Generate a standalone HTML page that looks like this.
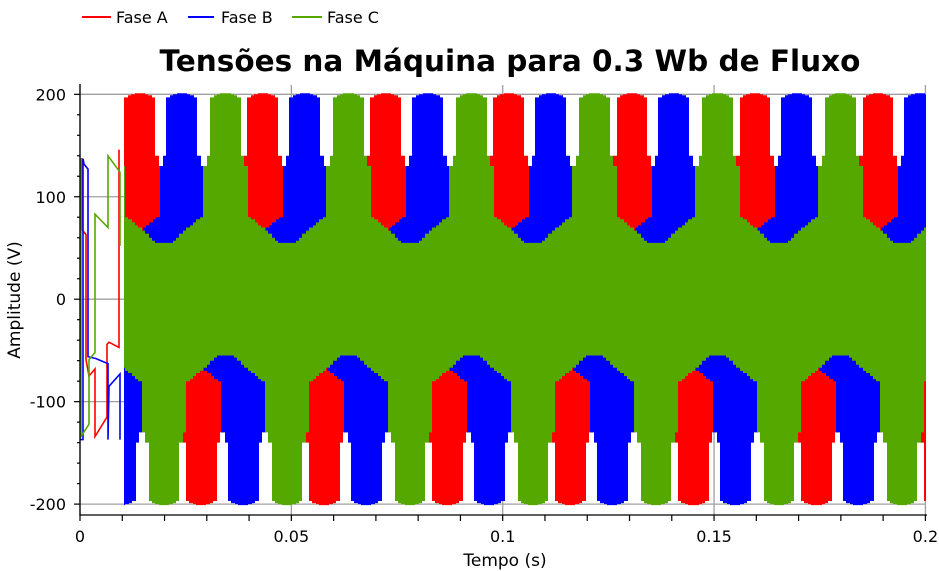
<!DOCTYPE html>
<html><head><meta charset="utf-8"><style>
html,body{margin:0;padding:0;background:#fff;}
svg{display:block;font-family:"DejaVu Sans","Liberation Sans",sans-serif;}
</style></head><body>
<svg id="chart" width="939" height="571" viewBox="0 0 939 571">
  <g>
    <g><line x1="82" y1="17" x2="111" y2="17" stroke="#ff0000" stroke-width="2"/><text x="116" y="23" font-size="16">Fase A</text></g>
    <g><line x1="188" y1="17" x2="214" y2="17" stroke="#0000ff" stroke-width="2"/><text x="221" y="23" font-size="16">Fase B</text></g>
    <g><line x1="292" y1="17" x2="322" y2="17" stroke="#55a800" stroke-width="2"/><text x="327" y="23" font-size="16">Fase C</text></g>
  </g>
  <text x="510" y="71" text-anchor="middle" font-size="29.5" font-weight="bold">Tensões na Máquina para 0.3 Wb de Fluxo</text>
  <g id="grid"></g>
  <g id="series"></g>
  <g id="axes"></g>
  <text x="505" y="566" text-anchor="middle" font-size="17">Tempo (s)</text>
  <text transform="translate(20,300) rotate(-90)" text-anchor="middle" font-size="17">Amplitude (V)</text>
</svg>
<script>
const xTicks = [0, 0.05, 0.1, 0.15, 0.2];
const xTickLabels = ["0", "0.05", "0.1", "0.15", "0.2"];
const yTicks = [-200, -100, 0, 100, 200];
const yTickLabels = ["-200", "-100", "0", "100", "200"];
const seriesNames = ["Fase A", "Fase B", "Fase C"];
const seriesColors = ["#ff0000", "#0000ff", "#55a800"];
// PWM envelope: period (s), positive peak time of each phase (s), start of switching (s)
const period = 0.0291;
const peakTimes = [0.04326, 0.05319, 0.06352];
const switchStart = 0.0105;
// envelope upper bound (V) vs electrical angle from phase peak (deg)
const envAngles = [0, 10, 20, 30, 40, 50, 60, 70, 80, 90, 100, 110, 120, 130, 140, 150, 160, 170, 180];
const envHigh = [201, 201, 200, 199, 197, 140, 130, 80, 78, 75, 72, 70, 67, 64, 60, 57, 55, 55, 55];
// start-up transient (before switching)
const transA_t = [0, 0.00047, 0.00047, 0.00142, 0.00142, 0.00213, 0.00355, 0.00355, 0.00638, 0.00638, 0.00686, 0.00922, 0.00922];
const transA_v = [137, 137, 68, 63, -59, -75, -68, -134, -115, -44, -42, -47, 146];
const transB_t = [0, 0.00071, 0.00071, 0.00095, 0.00189, 0.00189, 0.00378, 0.00662, 0.00662, 0.00686, 0.00946, 0.00946];
const transB_v = [-137, -137, 137, 132, 127, -56, -58, -63, -137, -85, -73, -137];
const transC_t = [0, 0.00024, 0.00024, 0.00213, 0.00213, 0.00355, 0.00355, 0.00662, 0.00662, 0.00946, 0.00946];
const transC_v = [137, 137, -134, -122, -59, -52, 83, 70, 140, 124, 52];

const NS = "http://www.w3.org/2000/svg";
const X0 = 80, X1 = 925.4, Y200 = 94.3, Y0 = 299.2;
const xS = t => X0 + t / 0.2 * (X1 - X0);
const yS = v => Y0 - v * (Y0 - Y200) / 200;
function mk(tag, attrs, parent) { const e = document.createElementNS(NS, tag); for (const k in attrs) e.setAttribute(k, attrs[k]); parent.appendChild(e); return e; }

const grid = document.getElementById('grid');
xTicks.forEach(t => {
  const l = mk('line', {x1: xS(t), x2: xS(t), y1: 85, y2: 515, stroke: '#a0a0a0', 'stroke-width': 1.3}, grid);
  
  
});
yTicks.forEach(v => {
  const l = mk('line', {x1: 80, x2: 926, y1: yS(v), y2: yS(v), stroke: '#a0a0a0', 'stroke-width': 1.3}, grid);
  
  
});

function envH(phiAbs) {
  const i = Math.min(envAngles.length - 1, Math.round(phiAbs / 10));
  return envHigh[i];
}
const series = document.getElementById('series');
const trans = [[transA_t, transA_v], [transB_t, transB_v], [transC_t, transC_v]];
for (let k = 0; k < 3; k++) {
  const g = mk('g', {}, series);
  
  
  const pts = trans[k][0].map((t, i) => xS(t).toFixed(1) + ',' + yS(trans[k][1][i]).toFixed(1)).join(' ');
  const pl = mk('polyline', {points: pts, fill: 'none', stroke: seriesColors[k], 'stroke-width': 1.6}, g);
  
  
  let d = '';
  const xs = Math.floor(xS(switchStart));
  for (let px = xs; px < 926; px++) {
    const t = (px + 0.5 - X0) / (X1 - X0) * 0.2;
    let phi = ((t - peakTimes[k]) / period) * 360;
    phi = ((phi % 360) + 540) % 360 - 180;
    const a = Math.abs(phi);
    const hi = envH(a), lo = -envH(180 - a);
    d += 'M' + px + ' ' + yS(hi).toFixed(1) + 'H' + (px + 1) + 'V' + yS(lo).toFixed(1) + 'H' + px + 'Z';
  }
  const band = mk('path', {d: d, fill: seriesColors[k]}, g);
  
  
}

const axes = document.getElementById('axes');
mk('line', {x1: 80, x2: 80, y1: 84, y2: 516, stroke: '#000', 'stroke-width': 1.3}, axes);
mk('line', {x1: 80, x2: 927, y1: 515, y2: 515, stroke: '#000', 'stroke-width': 1.3}, axes);
for (let i = 0; i <= 20; i++) {
  const t = i * 0.01;
  mk('line', {x1: xS(t), x2: xS(t), y1: 515, y2: 521, stroke: '#000', 'stroke-width': 1.2}, axes);
}
for (let v = -200; v <= 200; v += 20) {
  const maj = v % 100 === 0;
  mk('line', {x1: maj ? 74 : 77, x2: 80, y1: yS(v), y2: yS(v), stroke: '#000', 'stroke-width': 1.2}, axes);
}
xTicks.forEach((t, i) => {
  const tx = mk('text', {x: xS(t), y: 542, 'text-anchor': 'middle', 'font-size': 16}, axes);
  tx.textContent = xTickLabels[i];
  
  
});
yTicks.forEach((v, i) => {
  const tx = mk('text', {x: 66, y: yS(v) + 6, 'text-anchor': 'end', 'font-size': 16}, axes);
  tx.textContent = yTickLabels[i];
  
  
});
</script>
</body></html>
